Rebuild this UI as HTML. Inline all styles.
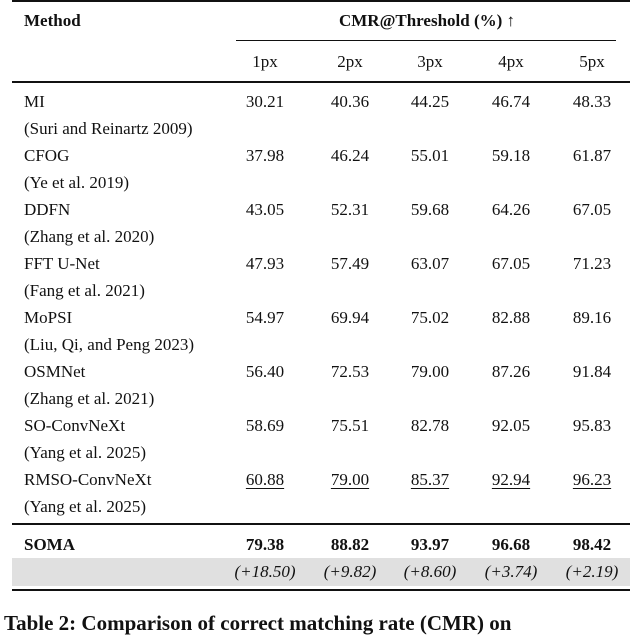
<!DOCTYPE html>
<html><head><meta charset="utf-8"><style>
body{margin:0;width:640px;height:626px;background:#fff;overflow:hidden;position:relative;font-family:"Liberation Serif",serif;font-size:17px;color:#111}
.t{position:absolute;line-height:20px;white-space:nowrap}
.c{transform:translateX(-50%)}
.r{position:absolute;background:#111}
.b{font-weight:bold}
u{text-decoration-thickness:1px;text-underline-offset:3px}
</style></head><body>
<div class="r" style="left:12px;top:0;width:618px;height:2px"></div>
<div class="t b" style="left:24px;top:11px">Method</div>
<div class="t b c" style="left:427px;top:11px">CMR@Threshold (%) ↑</div>
<div class="r" style="left:236px;top:40px;width:380px;height:1px"></div>
<div id="hdr"></div>
<div class="r" style="left:12px;top:81px;width:618px;height:2px"></div>
<div id="body"></div>
<div class="r" style="left:12px;top:523px;width:618px;height:1.5px"></div>
<div style="position:absolute;left:12px;top:558px;width:618px;height:28px;background:#e0e0e0"></div>
<div id="soma"></div>
<div class="r" style="left:12px;top:589px;width:618px;height:2px"></div>
<div class="t b" style="left:4px;top:610px;font-size:21px;line-height:26px">Table 2: Comparison of correct matching rate (CMR) on</div>
<script>
const cols=[265,350,430,511,592];
const thresholds=["1px","2px","3px","4px","5px"];
const methods=["MI","CFOG","DDFN","FFT U-Net","MoPSI","OSMNet","SO-ConvNeXt","RMSO-ConvNeXt"];
const cites=["(Suri and Reinartz 2009)","(Ye et al. 2019)","(Zhang et al. 2020)","(Fang et al. 2021)","(Liu, Qi, and Peng 2023)","(Zhang et al. 2021)","(Yang et al. 2025)","(Yang et al. 2025)"];
const values=[["30.21","40.36","44.25","46.74","48.33"],["37.98","46.24","55.01","59.18","61.87"],["43.05","52.31","59.68","64.26","67.05"],["47.93","57.49","63.07","67.05","71.23"],["54.97","69.94","75.02","82.88","89.16"],["56.40","72.53","79.00","87.26","91.84"],["58.69","75.51","82.78","92.05","95.83"],["60.88","79.00","85.37","92.94","96.23"]];
const soma=["79.38","88.82","93.97","96.68","98.42"];
const gains=["(+18.50)","(+9.82)","(+8.60)","(+3.74)","(+2.19)"];
function add(parent,cls,x,y,html){const d=document.createElement('div');d.className='t '+cls;d.style.left=x+'px';d.style.top=y+'px';d.innerHTML=html;parent.appendChild(d);return d;}
const hdr=document.getElementById('hdr');
thresholds.forEach((s,i)=>{const d=add(hdr,'c',cols[i],52,s);

});
const body=document.getElementById('body');
methods.forEach((m,r)=>{const y=92+r*54;
const a=add(body,'',24,y,m);


const b=add(body,'',24,y+27,cites[r]);


values[r].forEach((v,i)=>{const c=add(body,'c',cols[i],y,r===methods.length-1?'<u>'+v+'</u>':v);

});});
const so=document.getElementById('soma');
const sn=add(so,'b',24,535,'SOMA');


soma.forEach((v,i)=>{const c=add(so,'b c',cols[i],535,v);

});
gains.forEach((v,i)=>{const c=add(so,'c',cols[i],562,'<i>'+v+'</i>');

});
</script>
</body></html>
